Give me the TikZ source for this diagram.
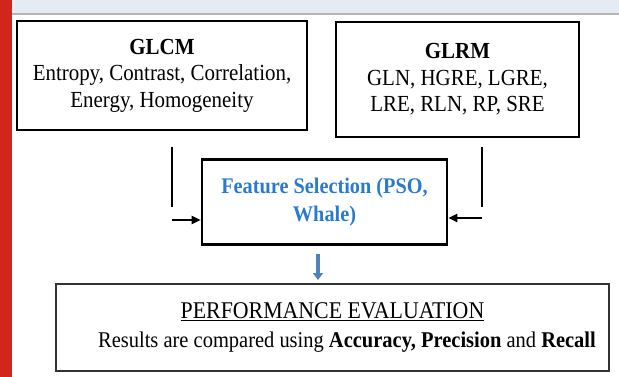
\documentclass[tikz,border=0pt]{standalone}
\usepackage{fontspec}
\setmainfont{Liberation Serif}[FakeStretch=0.91]
\usetikzlibrary{arrows.meta,calc}
\definecolor{barred}{HTML}{D0261C}
\definecolor{strip}{HTML}{E4EBF3}
\definecolor{stripline}{HTML}{B4B4B4}
\definecolor{featblue}{HTML}{2A7BD0}
\definecolor{arrblue}{HTML}{4F81BD}
\tikzset{
  featbox/.style={draw=black, line width=2.6pt, align=center, inner sep=0pt,
    font=\fontsize{23}{26.5}\selectfont},
  evalbox/.style={draw=black!80, line width=2pt, align=center, inner sep=0pt,
    font=\fontsize{22.5}{29}\selectfont},
  conn/.style={line width=2pt, black},
  arr/.style={line width=2pt, black, -{Triangle[length=9pt,width=8pt]}},
  bluearr/.style={line width=3.2pt, arrblue, -{Triangle[length=7pt,width=10pt]}}
}
\begin{document}
\begin{tikzpicture}[x=1pt,y=-1pt]
\useasboundingbox (0,0) rectangle (619,377);
\fill[white] (0,0) rectangle (619,377);
\fill[strip] (12,0) rectangle (619,13);
\draw[stripline, line width=2pt] (12,14) -- (619,14);
\fill[barred] (0,0) rectangle (12,377);

\node[featbox, minimum width=290pt, minimum height=109pt] (glcm) at (162,75.5)
  {\textbf{GLCM}\\Entropy, Contrast, Correlation,\\Energy, Homogeneity};
\node[featbox, minimum width=243pt, minimum height=115pt] (glrm) at (457.5,79.5)
  {\textbf{GLRM}\\GLN, HGRE, LGRE,\\LRE, RLN, RP, SRE};
\node[featbox, minimum width=245pt, minimum height=85pt, text=featblue,
  font=\fontsize{22.3}{28}\selectfont\bfseries] (feat) at (324.5,202)
  {Feature Selection (PSO,\\Whale)};
\node[evalbox, minimum width=553pt, minimum height=87pt] (perf) at (332.5,327.5)
  {{\fontsize{24}{29}\selectfont\underline{PERFORMANCE EVALUATION}}\\\hspace*{29pt}Results are compared using \textbf{Accuracy, Precision} and \textbf{Recall}};

\coordinate (lt) at (172,147);
\coordinate (lb) at (172,207);
\coordinate (la) at (172,220);
\coordinate (rt) at (482,147);
\coordinate (rb) at (482,207);
\coordinate (ra) at (482,218);
\coordinate (ax) at (318,0);

\draw[conn] (lt) -- (lb);
\draw[conn] (rt) -- (rb);
\draw[arr] (la) -- (la -| feat.west);
\draw[arr] (ra) -- (ra -| feat.east);
\draw[bluearr, shorten <=8.5pt, shorten >=3pt] (feat.south -| ax) -- (perf.north -| ax);
\end{tikzpicture}
\end{document}
